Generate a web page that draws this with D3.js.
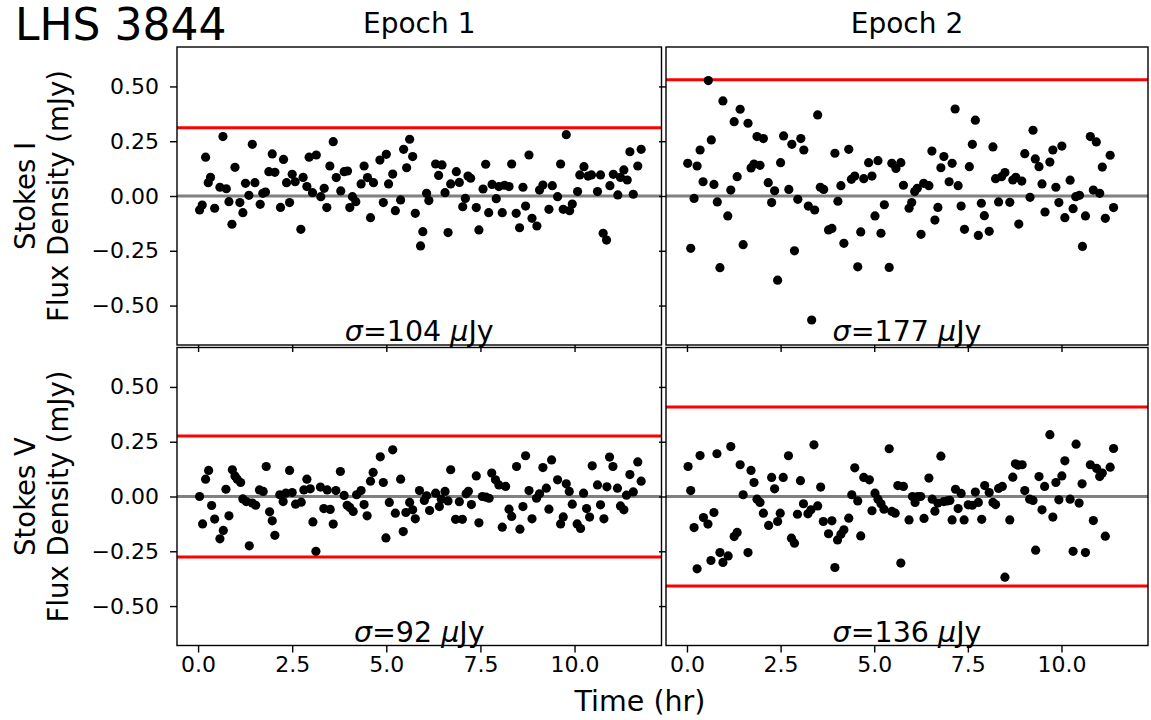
<!DOCTYPE html>
<html>
<head>
<meta charset="utf-8">
<script src="https://cdn.jsdelivr.net/npm/d3@7"></script>
<style>
body { margin: 0; background: #fff; }
svg { display: block; font-family: "DejaVu Sans", sans-serif; }
</style>
</head>
<body>
<svg id="chart" width="1151" height="720"></svg>
<script>
// [time (hr), flux density (mJy)]
const e1I = [[0.04,-0.064],[0.11,-0.041],[0.20,0.177],[0.27,0.061],[0.33,0.085],[0.44,-0.056],[0.58,0.040],[0.66,0.271],[0.75,0.033],[0.82,-0.026],[0.90,-0.129],[0.98,0.131],[1.11,-0.030],[1.19,-0.076],[1.26,0.058],[1.35,0.003],[1.44,0.236],[1.51,0.061],[1.65,-0.038],[1.72,0.012],[1.79,0.018],[1.88,0.111],[1.97,0.192],[2.04,0.108],[2.19,-0.052],[2.27,0.167],[2.35,0.061],[2.43,-0.030],[2.50,0.099],[2.58,0.065],[2.73,-0.152],[2.79,0.085],[2.89,0.043],[2.95,0.177],[3.04,0.015],[3.14,0.187],[3.26,-0.003],[3.35,0.035],[3.42,-0.053],[3.50,0.137],[3.59,0.248],[3.67,0.084],[3.79,0.023],[3.88,0.111],[3.97,0.114],[4.03,-0.053],[4.10,-0.003],[4.19,-0.026],[4.33,0.055],[4.41,0.137],[4.50,0.084],[4.58,-0.099],[4.66,0.061],[4.83,0.164],[4.92,-0.030],[5.00,0.190],[5.06,0.055],[5.17,0.100],[5.24,-0.067],[5.38,-0.018],[5.46,0.213],[5.54,0.129],[5.62,0.259],[5.70,0.180],[5.77,-0.079],[5.91,-0.228],[5.97,-0.163],[6.07,0.012],[6.13,-0.021],[6.31,0.146],[6.39,0.094],[6.48,0.142],[6.56,0.015],[6.64,-0.167],[6.71,0.055],[6.86,0.111],[6.94,0.062],[7.03,-0.049],[7.10,-0.011],[7.17,0.091],[7.24,0.081],[7.39,-0.053],[7.46,-0.155],[7.57,0.032],[7.64,0.145],[7.72,-0.076],[7.81,0.053],[7.92,-0.012],[7.99,0.043],[8.08,-0.076],[8.14,0.049],[8.26,0.043],[8.33,0.146],[8.45,-0.079],[8.54,-0.145],[8.63,0.040],[8.70,-0.046],[8.79,0.187],[8.87,-0.102],[9.00,-0.137],[9.07,0.027],[9.16,0.050],[9.32,-0.061],[9.41,0.047],[9.55,-0.003],[9.63,0.146],[9.70,-0.061],[9.78,0.280],[9.87,-0.067],[9.94,-0.037],[10.08,0.020],[10.14,0.096],[10.25,0.134],[10.36,0.091],[10.45,0.096],[10.61,0.020],[10.69,0.096],[10.76,-0.170],[10.85,-0.201],[10.94,0.047],[11.03,0.099],[11.15,0.005],[11.22,0.085],[11.31,0.119],[11.40,0.073],[11.47,0.202],[11.56,0.008],[11.68,0.137],[11.77,0.213]];

const e2I = [[0.02,0.149],[0.10,-0.239],[0.19,-0.011],[0.27,0.137],[0.35,0.210],[0.43,0.065],[0.57,0.527],[0.65,0.256],[0.72,0.053],[0.81,-0.027],[0.88,-0.327],[0.96,0.434],[1.09,-0.091],[1.17,0.027],[1.26,0.339],[1.34,0.088],[1.42,0.396],[1.50,-0.222],[1.63,0.332],[1.71,0.128],[1.79,0.146],[1.87,0.271],[1.95,0.140],[2.04,0.262],[2.17,0.061],[2.26,-0.030],[2.34,0.024],[2.42,-0.384],[2.50,0.152],[2.58,0.274],[2.72,0.030],[2.80,0.236],[2.87,-0.250],[2.96,-0.015],[3.04,0.262],[3.12,0.210],[3.24,-0.046],[3.33,-0.566],[3.41,-0.064],[3.49,0.370],[3.56,0.040],[3.65,0.030],[3.78,-0.155],[3.87,-0.148],[3.95,0.195],[4.03,-0.024],[4.11,0.047],[4.19,-0.216],[4.32,0.213],[4.39,0.076],[4.48,0.091],[4.56,-0.323],[4.64,-0.164],[4.72,0.079],[4.85,0.152],[4.94,0.091],[5.02,-0.091],[5.10,0.161],[5.18,-0.170],[5.27,-0.040],[5.40,-0.326],[5.47,0.149],[5.58,0.126],[5.71,0.152],[5.78,0.049],[5.93,-0.056],[6.00,-0.030],[6.08,0.020],[6.15,0.035],[6.25,-0.175],[6.32,0.058],[6.46,0.047],[6.54,0.205],[6.62,-0.110],[6.70,-0.052],[6.78,0.129],[6.86,0.180],[7.00,0.065],[7.08,0.149],[7.16,0.397],[7.24,0.047],[7.32,-0.046],[7.41,-0.152],[7.54,0.134],[7.62,0.236],[7.70,0.346],[7.78,-0.180],[7.86,-0.033],[7.94,-0.090],[8.07,-0.161],[8.17,0.224],[8.24,0.079],[8.32,-0.027],[8.40,0.088],[8.49,0.107],[8.62,-0.029],[8.70,0.073],[8.78,0.085],[8.86,-0.128],[8.94,0.068],[9.02,0.193],[9.16,-0.006],[9.24,0.300],[9.30,0.169],[9.40,0.134],[9.48,0.055],[9.56,-0.073],[9.69,0.155],[9.77,0.210],[9.85,0.040],[9.93,-0.030],[10.01,0.228],[10.09,-0.099],[10.23,0.072],[10.31,-0.058],[10.38,-0.003],[10.48,0.003],[10.56,-0.230],[10.64,-0.091],[10.77,0.271],[10.85,0.027],[10.93,0.247],[11.02,0.012],[11.09,0.132],[11.17,-0.102],[11.30,0.186],[11.39,-0.053]];

const e1V = [[0.04,0.000],[0.12,-0.125],[0.20,0.079],[0.28,0.119],[0.36,-0.041],[0.44,-0.103],[0.58,-0.193],[0.67,-0.155],[0.74,0.033],[0.82,-0.088],[0.91,0.122],[0.98,0.094],[1.04,0.079],[1.13,0.064],[1.19,-0.011],[1.28,-0.023],[1.36,-0.225],[1.44,-0.030],[1.53,-0.040],[1.63,0.030],[1.73,0.023],[1.81,0.137],[1.90,-0.070],[1.97,-0.111],[2.04,-0.177],[2.17,0.008],[2.26,-0.023],[2.33,0.015],[2.43,0.119],[2.50,0.018],[2.59,-0.035],[2.74,-0.026],[2.81,0.030],[2.89,0.079],[2.98,0.035],[3.05,-0.116],[3.13,-0.250],[3.25,0.043],[3.34,-0.055],[3.43,0.030],[3.51,-0.059],[3.59,-0.126],[3.66,0.027],[3.78,0.114],[3.88,0.005],[3.96,-0.040],[4.03,-0.050],[4.12,-0.068],[4.21,0.008],[4.33,0.027],[4.41,-0.037],[4.49,-0.088],[4.58,0.070],[4.65,0.110],[4.84,0.181],[4.92,0.064],[4.99,-0.189],[5.08,-0.027],[5.17,0.213],[5.24,-0.076],[5.38,0.079],[5.45,-0.160],[5.52,-0.073],[5.62,-0.027],[5.70,-0.061],[5.77,-0.102],[5.88,0.027],[6.01,-0.018],[6.07,0.003],[6.15,-0.064],[6.31,0.015],[6.41,-0.046],[6.46,-0.012],[6.56,0.023],[6.64,-0.020],[6.71,0.122],[6.84,-0.104],[6.94,-0.024],[7.02,-0.104],[7.12,0.012],[7.18,0.024],[7.26,-0.037],[7.39,0.094],[7.46,-0.120],[7.55,0.000],[7.65,-0.003],[7.73,-0.008],[7.80,0.107],[7.90,0.076],[7.99,0.053],[8.08,-0.140],[8.17,0.046],[8.26,-0.058],[8.33,-0.091],[8.46,0.137],[8.55,-0.149],[8.63,-0.046],[8.70,0.186],[8.79,0.027],[8.87,-0.102],[8.99,-0.008],[9.07,0.012],[9.16,0.132],[9.25,0.038],[9.32,-0.058],[9.39,0.167],[9.55,0.076],[9.63,-0.125],[9.70,-0.093],[9.78,0.058],[9.86,0.023],[9.94,-0.035],[10.07,-0.125],[10.16,-0.146],[10.24,0.015],[10.32,-0.055],[10.40,-0.094],[10.47,0.140],[10.61,0.053],[10.69,-0.038],[10.78,-0.102],[10.86,0.044],[10.93,0.180],[11.02,0.137],[11.14,0.038],[11.22,-0.043],[11.31,-0.061],[11.38,0.006],[11.47,0.100],[11.56,0.021],[11.68,0.158],[11.77,0.070]];

const e2V = [[0.03,0.137],[0.10,0.027],[0.19,-0.142],[0.27,-0.330],[0.35,0.187],[0.44,-0.096],[0.56,-0.126],[0.64,-0.292],[0.72,-0.073],[0.80,0.195],[0.88,-0.256],[0.96,-0.301],[1.10,-0.271],[1.17,0.228],[1.26,-0.183],[1.34,-0.164],[1.42,0.145],[1.50,0.008],[1.63,-0.256],[1.71,0.119],[1.79,0.064],[1.87,-0.012],[1.95,-0.027],[2.04,-0.076],[2.18,-0.132],[2.26,0.087],[2.34,0.035],[2.42,-0.114],[2.49,-0.076],[2.57,0.087],[2.71,0.186],[2.79,-0.190],[2.87,-0.213],[2.95,-0.081],[3.03,0.072],[3.11,-0.033],[3.23,-0.079],[3.31,-0.061],[3.39,0.236],[3.49,-0.043],[3.57,0.043],[3.64,-0.114],[3.78,-0.170],[3.87,-0.111],[3.95,-0.324],[4.02,-0.198],[4.11,-0.172],[4.19,-0.152],[4.32,-0.099],[4.40,0.008],[4.48,0.131],[4.56,-0.020],[4.64,-0.180],[4.72,0.087],[4.87,0.076],[4.94,-0.065],[5.02,0.015],[5.10,-0.012],[5.18,-0.033],[5.26,-0.058],[5.40,0.218],[5.47,-0.068],[5.56,-0.076],[5.63,0.050],[5.71,-0.304],[5.78,0.046],[5.93,-0.107],[6.02,0.000],[6.09,-0.027],[6.16,0.000],[6.24,0.000],[6.33,-0.100],[6.46,0.084],[6.55,-0.012],[6.62,-0.067],[6.70,-0.030],[6.78,0.184],[6.86,-0.023],[6.95,-0.020],[7.02,-0.018],[7.08,-0.107],[7.17,0.033],[7.24,-0.055],[7.32,0.014],[7.40,-0.107],[7.51,-0.038],[7.62,-0.040],[7.70,0.020],[7.78,-0.027],[7.87,-0.104],[7.95,0.050],[8.07,0.018],[8.17,-0.027],[8.24,-0.037],[8.32,0.037],[8.42,0.046],[8.49,-0.368],[8.62,-0.107],[8.70,0.088],[8.77,0.149],[8.84,0.143],[8.95,0.145],[9.02,0.027],[9.15,-0.012],[9.24,-0.018],[9.31,-0.245],[9.40,0.091],[9.48,-0.061],[9.55,0.046],[9.69,0.282],[9.77,-0.094],[9.85,0.064],[9.93,-0.015],[10.01,0.094],[10.09,0.163],[10.23,-0.012],[10.31,-0.250],[10.39,0.239],[10.47,-0.030],[10.55,0.058],[10.64,-0.256],[10.77,0.145],[10.85,-0.110],[10.94,0.128],[11.02,0.091],[11.09,0.107],[11.17,-0.181],[11.30,0.134],[11.39,0.219]];

// rms noise per panel in uJy (epoch 1, epoch 2)
const sigmaI = [104, 177];
const sigmaV = [92, 136];

const epochs = ["Epoch 1", "Epoch 2"];
const stokes = ["Stokes I", "Stokes V"];
const xTicks = [0, 2.5, 5, 7.5, 10];
const yTicks = [-0.5, -0.25, 0, 0.25, 0.5];
const timeDomain = [-0.56, 12.31];
const fluxDomain = [-0.68, 0.68];

const svg = d3.select("#chart");

const cols = [{x0: 177, x1: 661.5}, {x0: 666, x1: 1148}];
const rows = [{y0: 47, y1: 345}, {y0: 347.5, y1: 645.5}];

const panels = [
    {row: 0, col: 0, data: e1I, sigma: sigmaI[0], twoSided: false},
    {row: 0, col: 1, data: e2I, sigma: sigmaI[1], twoSided: false},
    {row: 1, col: 0, data: e1V, sigma: sigmaV[0], twoSided: true},
    {row: 1, col: 1, data: e2V, sigma: sigmaV[1], twoSided: true}
];

panels.forEach(drawPanel);
drawLabels();

/**
 * Draw one subplot: reference lines, points, axes and frame
 */

function drawPanel(p, i) {
    const c = cols[p.col], r = rows[p.row];
    const x = d3.scaleLinear().domain(timeDomain).range([c.x0, c.x1]);
    const y = d3.scaleLinear().domain(fluxDomain).range([r.y1, r.y0]);

    const g = svg.append("g").attr("class", "panel");

    g.append("clipPath").attr("id", "clip" + i)
        .append("rect")
        .attr("x", c.x0).attr("y", r.y0)
        .attr("width", c.x1 - c.x0).attr("height", r.y1 - r.y0);

    const plot = g.append("g").attr("clip-path", "url(#clip" + i + ")");

    // zero line
    plot.append("line")
        .attr("x1", c.x0).attr("x2", c.x1)
        .attr("y1", y(0)).attr("y2", y(0))
        .attr("stroke", "#808080")
        .attr("stroke-width", 3);

    // 3 sigma thresholds
    const limits = p.twoSided ? [3 * p.sigma / 1000, -3 * p.sigma / 1000] : [3 * p.sigma / 1000];
    plot.selectAll("line.limit")
        .data(limits)
        .enter().append("line")
        .attr("class", "limit")
        .attr("x1", c.x0).attr("x2", c.x1)
        .attr("y1", (d) => y(d)).attr("y2", (d) => y(d))
        .attr("stroke", "#ff0000")
        .attr("stroke-width", 3);

    plot.selectAll("circle")
        .data(p.data)
        .enter().append("circle")
        .attr("cx", (d) => x(d[0]))
        .attr("cy", (d) => y(d[1]))
        .attr("r", 4.6)
        .attr("fill", "#000");

    // axes
    const xAxis = d3.axisBottom(x)
        .tickValues(xTicks)
        .tickSize(7)
        .tickSizeOuter(0)
        .tickPadding(4)
        .tickFormat(p.row === 1 ? d3.format(".1f") : "");

    const yAxis = d3.axisLeft(y)
        .tickValues(yTicks)
        .tickSize(7)
        .tickSizeOuter(0)
        .tickPadding(11)
        .tickFormat(p.col === 0 ? d3.format(".2f") : "");

    [g.append("g").attr("transform", "translate(0," + r.y1 + ")").call(xAxis),
     g.append("g").attr("transform", "translate(" + c.x0 + ",0)").call(yAxis)]
        .forEach(ax => {
            ax.select(".domain").remove();
            ax.attr("font-family", null).attr("font-size", null);
            ax.selectAll("line").attr("stroke", "#000").attr("stroke-width", 1.4);
            ax.selectAll("text").attr("font-size", 22).attr("fill", "#000");
        });

    g.append("rect")
        .attr("x", c.x0).attr("y", r.y0)
        .attr("width", c.x1 - c.x0).attr("height", r.y1 - r.y0)
        .attr("fill", "none")
        .attr("stroke", "#000")
        .attr("stroke-width", 1.4);

    // sigma annotation
    const note = g.append("text")
        .attr("x", (c.x0 + c.x1) / 2)
        .attr("y", r.y1 - 4)
        .attr("text-anchor", "middle")
        .attr("font-size", 28.5);
    note.append("tspan").attr("font-style", "italic").text("σ");
    note.append("tspan").text("=" + p.sigma + " ");
    note.append("tspan").attr("font-style", "italic").text("μ");
    note.append("tspan").text("Jy");
}

/**
 * Figure level texts: name, column titles, row labels, time label
 */

function drawLabels() {
    svg.append("text")
        .attr("x", 15).attr("y", 40)
        .attr("font-size", 44)
        .text("LHS 3844");

    svg.selectAll("text.epoch")
        .data(epochs)
        .enter().append("text")
        .attr("class", "epoch")
        .attr("x", (d, i) => (cols[i].x0 + cols[i].x1) / 2)
        .attr("y", 33)
        .attr("text-anchor", "middle")
        .attr("font-size", 28)
        .text((d) => d);

    stokes.forEach((s, i) => {
        const cy = (rows[i].y0 + rows[i].y1) / 2;
        [[35, s], [68, "Flux Density (mJy)"]].forEach(([bx, label]) => {
            svg.append("text")
                .attr("transform", "translate(" + bx + "," + cy + ") rotate(-90)")
                .attr("text-anchor", "middle")
                .attr("font-size", 27.5)
                .text(label);
        });
    });

    svg.append("text")
        .attr("x", 640).attr("y", 711)
        .attr("text-anchor", "middle")
        .attr("font-size", 28.5)
        .text("Time (hr)");
}
</script>
</body>
</html>
